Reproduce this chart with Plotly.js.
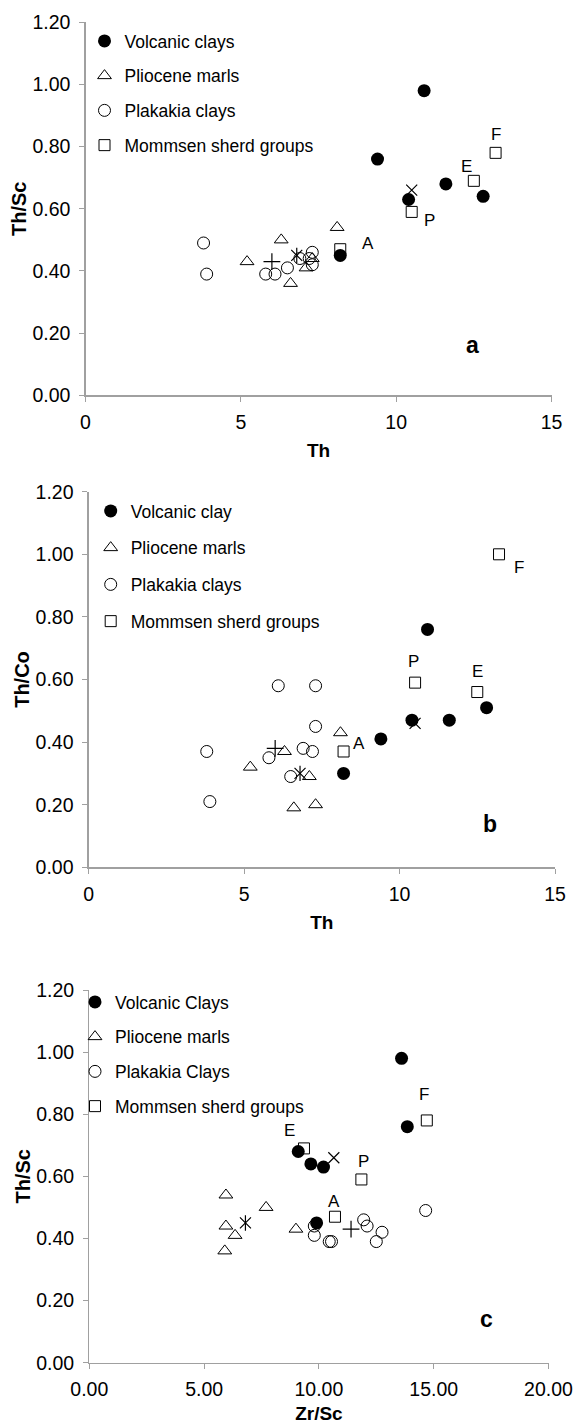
<!DOCTYPE html>
<html>
<head>
<meta charset="utf-8">
<script src="https://cdn.plot.ly/plotly-3.0.1.min.js"></script>
<style>html,body{margin:0;padding:0;background:#fff;}#chart{width:577px;height:1424px;}</style>
</head>
<body>
<div id="chart"></div>
<script>
// ---------------- DATA ----------------
// Th (ppm) of each sample group (shared by panels a and b)
const th_volc = [8.2, 9.4, 10.4, 10.9, 11.6, 12.8];
const thsc_volc = [0.45, 0.76, 0.63, 0.98, 0.68, 0.64];
const thco_volc = [0.30, 0.41, 0.47, 0.76, 0.47, 0.51];
const zrsc_volc = [9.9, 13.85, 10.2, 13.6, 9.1, 9.65];

const th_plio = [5.2, 6.3, 6.6, 7.1, 7.3, 8.1];
const thsc_plio = [0.43, 0.50, 0.36, 0.41, 0.44, 0.54];
const thco_plio = [0.32, 0.37, 0.19, 0.29, 0.20, 0.43];
const zrsc_plio = [9.0, 7.7, 5.9, 6.35, 5.95, 5.95];

const th_plak = [3.8, 3.9, 5.8, 6.1, 6.5, 6.9, 7.2, 7.3, 7.3];
const thsc_plak = [0.49, 0.39, 0.39, 0.39, 0.41, 0.44, 0.44, 0.46, 0.42];
const thco_plak = [0.37, 0.21, 0.35, 0.58, 0.29, 0.38, 0.37, 0.58, 0.45];
const zrsc_plak = [14.65, 12.5, 10.45, 10.55, 9.8, 12.1, 9.8, 11.95, 12.75];

const mom_labels = ['A', 'P', 'E', 'F'];
const th_mom = [8.2, 10.5, 12.5, 13.2];
const thsc_mom = [0.47, 0.59, 0.69, 0.78];
const thco_mom = [0.37, 0.59, 0.56, 1.00];
const zrsc_mom = [10.7, 11.85, 9.35, 14.7];

// single reference points (x mark, star, plus)
const th_xmark = [10.5], thsc_xmark = [0.66], thco_xmark = [0.46], zrsc_xmark = [10.65];
const th_star = [6.8], thsc_star = [0.45], thco_star = [0.30], zrsc_star = [6.8];
const th_plus = [6.0], thsc_plus = [0.43], thco_plus = [0.38], zrsc_plus = [11.4];

const names_a = ['Volcanic clays', 'Pliocene marls', 'Plakakia clays', 'Mommsen sherd groups'];
const names_b = ['Volcanic clay', 'Pliocene marls', 'Plakakia clays', 'Mommsen sherd groups'];
const names_c = ['Volcanic Clays', 'Pliocene marls', 'Plakakia Clays', 'Mommsen sherd groups'];
const panel_letters = ['a', 'b', 'c'];

const yticks = [0, 0.2, 0.4, 0.6, 0.8, 1.0, 1.2];

// ---------------- STYLE ----------------
const FONT = 'Liberation Sans, Arial, Helvetica, sans-serif';
const AXC = '#a0a0a0';
const W = 577, H = 1424;
function px2x(p){ return p / W; }
function px2y(p){ return 1 - p / H; }

const panels = [
  { xa:'x',  ya:'y',  leg:'legend',  names:names_a, letterPos:[0.83, 0.135],
    volc:[th_volc, thsc_volc], plio:[th_plio, thsc_plio], plak:[th_plak, thsc_plak], mom:[th_mom, thsc_mom],
    xm:[th_xmark, thsc_xmark], st:[th_star, thsc_star], pl:[th_plus, thsc_plus],
    shifts:{A:[28,6], P:[18,-9], E:[-7,14], F:[0,18]} },
  { xa:'x2', ya:'y2', leg:'legend2', names:names_b, letterPos:[0.86, 0.115],
    volc:[th_volc, thco_volc], plio:[th_plio, thco_plio], plak:[th_plak, thco_plak], mom:[th_mom, thco_mom],
    xm:[th_xmark, thco_xmark], st:[th_star, thco_star], pl:[th_plus, thco_plus],
    shifts:{A:[15,8], P:[-2,21], E:[0,21], F:[20,-13]} },
  { xa:'x3', ya:'y3', leg:'legend3', names:names_c, letterPos:[0.865, 0.117],
    volc:[zrsc_volc, thsc_volc], plio:[zrsc_plio, thsc_plio], plak:[zrsc_plak, thsc_plak], mom:[zrsc_mom, thsc_mom],
    xm:[zrsc_xmark, thsc_xmark], st:[zrsc_star, thsc_star], pl:[zrsc_plus, thsc_plus],
    shifts:{A:[-1,15], P:[2,18], E:[-14,18], F:[-3,26]} }
];

const traces = [];
const annotations = [];
panels.forEach((p, i) => {
  const common = { type:'scatter', mode:'markers', xaxis:p.xa, yaxis:p.ya, legend:p.leg, hoverinfo:'x+y' };
  traces.push(Object.assign({}, common, { name:p.names[2], legendgroup:'g3'+i, legendrank:3,
    x:p.plak[0], y:p.plak[1],
    marker:{symbol:'circle-open', size:12, color:'#000', line:{width:1, color:'#000'}} }));
  traces.push(Object.assign({}, common, { name:p.names[1], legendgroup:'g2'+i, legendrank:2,
    x:p.plio[0], y:p.plio[1],
    marker:{symbol:'triangle-up-open', size:12, color:'#000', line:{width:1, color:'#000'}} }));
  traces.push(Object.assign({}, common, { name:p.names[3], legendgroup:'g4'+i, legendrank:4,
    x:p.mom[0], y:p.mom[1],
    marker:{symbol:'square-open', size:11, color:'#000', line:{width:1, color:'#000'}} }));
  traces.push(Object.assign({}, common, { name:p.names[0], legendgroup:'g1'+i, legendrank:1,
    x:p.volc[0], y:p.volc[1],
    marker:{symbol:'circle', size:13, color:'#000', line:{width:0}} }));
  traces.push(Object.assign({}, common, { name:'x', showlegend:false, x:p.xm[0], y:p.xm[1],
    marker:{symbol:'x-thin-open', size:11, color:'#000', line:{width:1.2, color:'#000'}} }));
  traces.push(Object.assign({}, common, { name:'star', showlegend:false, x:p.st[0], y:p.st[1],
    marker:{symbol:'x-thin-open', size:11, color:'#000', line:{width:1.2, color:'#000'}} }));
  traces.push(Object.assign({}, common, { name:'star', showlegend:false, x:p.st[0], y:p.st[1],
    marker:{symbol:'line-ns-open', size:11, color:'#000', line:{width:1.2, color:'#000'}} }));
  traces.push(Object.assign({}, common, { name:'plus', showlegend:false, x:p.pl[0], y:p.pl[1],
    marker:{symbol:'cross-thin-open', size:12, color:'#000', line:{width:1.2, color:'#000'}} }));

  mom_labels.forEach((lab, k) => {
    annotations.push({ xref:p.xa, yref:p.ya, x:p.mom[0][k], y:p.mom[1][k], text:lab, showarrow:false,
      xanchor:'center', yanchor:'middle',
      xshift:p.shifts[lab][0], yshift:p.shifts[lab][1], font:{family:FONT, size:17, color:'#000'} });
  });

  annotations.push({ xref:p.xa+' domain', yref:p.ya+' domain', x:p.letterPos[0], y:p.letterPos[1],
    xanchor:'center', yanchor:'middle', text:'<b>'+panel_letters[i]+'</b>', showarrow:false,
    font:{family:FONT, size:23, color:'#000'} });
});

function xaxis(dom, range, dtick, fmt, title, anchor){
  return { domain:dom, range:range, dtick:dtick, tick0:0, tickformat:fmt, anchor:anchor,
    showgrid:false, zeroline:false, showline:true, linecolor:AXC, linewidth:1.2,
    ticks:'outside', ticklen:5, tickcolor:AXC, tickwidth:1, ticklabelstandoff:4,
    tickfont:{family:FONT, size:19.5, color:'#000'},
    title:{text:'<b>'+title+'</b>', font:{family:FONT, size:19, color:'#000'}, standoff:11} };
}
function yaxis(dom, title, anchor){
  return { domain:dom, range:[0,1.2], tickvals:yticks, tickformat:'.2f', anchor:anchor,
    showgrid:false, zeroline:false, showline:true, linecolor:AXC, linewidth:1.2,
    ticks:'outside', ticklen:5, tickcolor:AXC, tickwidth:1, ticklabelstandoff:5,
    tickfont:{family:FONT, size:19.5, color:'#000'},
    title:{text:'<b>'+title+'</b>', font:{family:FONT, size:20, color:'#000'}, standoff:0} };
}
function legend(left, top, gap){
  return { x:px2x(left), y:px2y(top), xanchor:'left', yanchor:'top', bgcolor:'rgba(0,0,0,0)',
    traceorder:'grouped', tracegroupgap:gap, font:{family:FONT, size:17.5, color:'#000'} };
}

const layout = {
  width:W, height:H, margin:{l:0, r:0, t:0, b:0}, paper_bgcolor:'#fff', plot_bgcolor:'#fff',
  showlegend:true, font:{family:FONT, color:'#000'},
  xaxis:  xaxis([px2x(85.5), px2x(551.5)], [0,15], 5, 'd', 'Th', 'y'),
  yaxis:  yaxis([px2y(395.3), px2y(22.3)], 'Th/Sc', 'x'),
  xaxis2: xaxis([px2x(88.6), px2x(555)], [0,15], 5, 'd', 'Th', 'y2'),
  yaxis2: yaxis([px2y(867.3), px2y(491.7)], 'Th/Co', 'x2'),
  xaxis3: xaxis([px2x(89.3), px2x(548.5)], [0,20], 5, '.2f', 'Zr/Sc', 'y3'),
  yaxis3: yaxis([px2y(1362.7), px2y(990)], 'Th/Sc', 'x3'),
  legend:  legend(84.5, 23, 9),
  legend2: legend(90.7, 493, 11),
  legend3: legend(75, 984, 9),
  annotations:annotations
};

Plotly.newPlot('chart', traces, layout, {staticPlot:true, displayModeBar:false});
</script>
</body>
</html>
